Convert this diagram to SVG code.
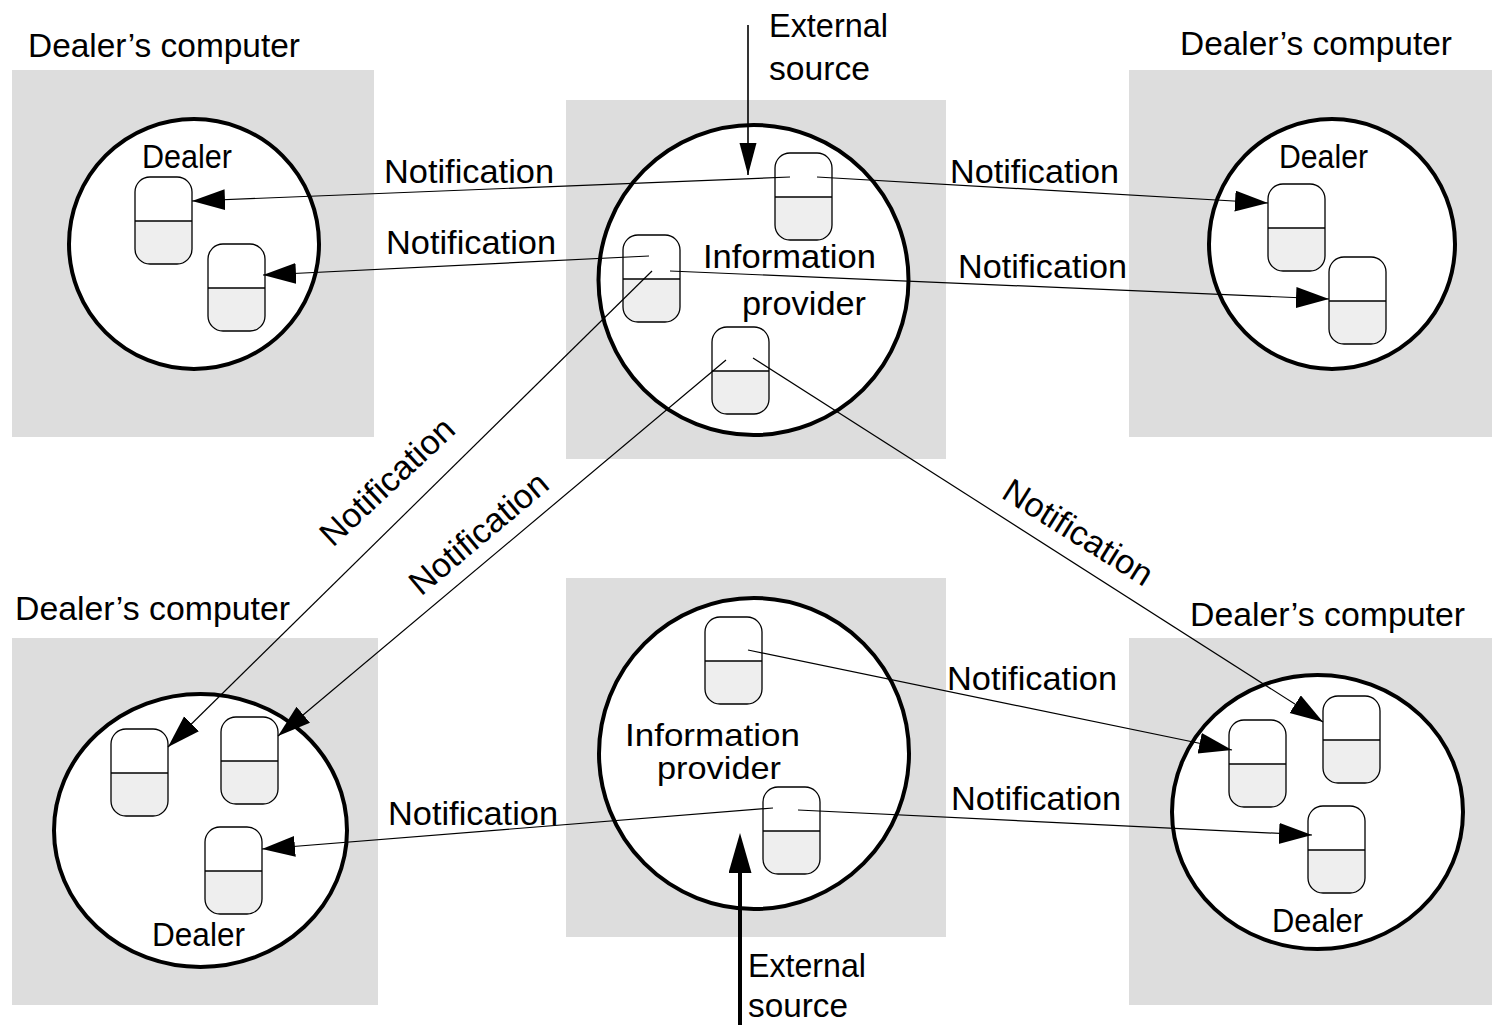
<svg xmlns="http://www.w3.org/2000/svg" xmlns:xlink="http://www.w3.org/1999/xlink" width="1492" height="1025" viewBox="0 0 1492 1025">
<style>
.bg{fill:#dddddd}
.proc{fill:#ffffff;stroke:#000;stroke-width:4}
.t{font-family:"Liberation Sans",Arial,sans-serif;font-size:34px;fill:#000}
.s{font-size:32px}
.c{fill:none;stroke:#000;stroke-width:1.2}
</style>
<defs>
<g id="obj">
<rect x="0" y="0" width="57" height="87" rx="15" ry="15" fill="#eeeeee"/>
<path d="M0,44 V15 A15,15 0 0 1 15,0 H42 A15,15 0 0 1 57,15 V44 Z" fill="#ffffff"/>
<rect x="0" y="0" width="57" height="87" rx="15" ry="15" fill="none" stroke="#000" stroke-width="1.3"/>
<line x1="0" y1="44" x2="57" y2="44" stroke="#000" stroke-width="1.3"/>
</g>
<marker id="ah" markerUnits="userSpaceOnUse" markerWidth="34" markerHeight="22" viewBox="0 0 34 22" refX="33" refY="10.5" orient="auto"><path d="M0,0 L33,10.5 L0,21 Z" fill="#000"/></marker>
<marker id="ahs" markerUnits="userSpaceOnUse" markerWidth="33" markerHeight="18" viewBox="0 0 33 18" refX="32" refY="8.5" orient="auto"><path d="M0,0 L32,8.5 L0,17 Z" fill="#000"/></marker>
<marker id="ahb" markerUnits="userSpaceOnUse" markerWidth="41" markerHeight="24" viewBox="0 0 41 24" refX="28" refY="11.5" orient="auto"><path d="M0,0 L40,11.5 L0,23 Z" fill="#000"/></marker>
</defs>

<g id="node-top-left">
<rect class="bg" x="12" y="70" width="362" height="367"/>
<ellipse class="proc" cx="194" cy="244" rx="125" ry="125"/>
<text class="t" x="28" y="57" textLength="272" lengthAdjust="spacingAndGlyphs">Dealer’s computer</text>
<text class="t" x="142" y="168" textLength="90" lengthAdjust="spacingAndGlyphs">Dealer</text>
<use xlink:href="#obj" x="135" y="177"/>
<use xlink:href="#obj" x="208" y="244"/>
</g>

<g id="node-top-center">
<rect class="bg" x="566" y="100" width="380" height="359"/>
<ellipse class="proc" cx="753.5" cy="280" rx="155" ry="155"/>
<text class="t" x="703" y="268" textLength="173" lengthAdjust="spacingAndGlyphs">Information</text>
<text class="t" x="742" y="315" textLength="124" lengthAdjust="spacingAndGlyphs">provider</text>
<use xlink:href="#obj" x="775" y="153"/>
<use xlink:href="#obj" x="623" y="235"/>
<use xlink:href="#obj" x="712" y="327"/>
</g>

<g id="node-top-right">
<rect class="bg" x="1129" y="70" width="363" height="367"/>
<ellipse class="proc" cx="1332" cy="244" rx="123" ry="125"/>
<text class="t" x="1180" y="55" textLength="272" lengthAdjust="spacingAndGlyphs">Dealer’s computer</text>
<text class="t" x="1279" y="168" textLength="89" lengthAdjust="spacingAndGlyphs">Dealer</text>
<use xlink:href="#obj" x="1268" y="184"/>
<use xlink:href="#obj" x="1329" y="257"/>
</g>

<g id="node-bottom-left">
<rect class="bg" x="12" y="638" width="366" height="367"/>
<ellipse class="proc" cx="200.5" cy="830.5" rx="146.5" ry="136.5"/>
<text class="t" x="15" y="620" textLength="275" lengthAdjust="spacingAndGlyphs">Dealer’s computer</text>
<text class="t" x="152" y="946" textLength="93" lengthAdjust="spacingAndGlyphs">Dealer</text>
<use xlink:href="#obj" x="111" y="729"/>
<use xlink:href="#obj" x="221" y="717"/>
<use xlink:href="#obj" x="205" y="827"/>
</g>

<g id="node-bottom-center">
<rect class="bg" x="566" y="578" width="380" height="359"/>
<ellipse class="proc" cx="754" cy="753.5" rx="155" ry="155.5"/>
<text class="t s" x="625" y="746" textLength="175" lengthAdjust="spacingAndGlyphs">Information</text>
<text class="t s" x="657" y="779" textLength="124" lengthAdjust="spacingAndGlyphs">provider</text>
<use xlink:href="#obj" x="705" y="617"/>
<use xlink:href="#obj" x="763" y="787"/>
</g>

<g id="node-bottom-right">
<rect class="bg" x="1129" y="638" width="363" height="367"/>
<ellipse class="proc" cx="1317.5" cy="812" rx="145.5" ry="137"/>
<text class="t" x="1190" y="626" textLength="275" lengthAdjust="spacingAndGlyphs">Dealer’s computer</text>
<text class="t" x="1272" y="932" textLength="91" lengthAdjust="spacingAndGlyphs">Dealer</text>
<use xlink:href="#obj" x="1229" y="720"/>
<use xlink:href="#obj" x="1323" y="696"/>
<use xlink:href="#obj" x="1308" y="806"/>
</g>

<g id="connectors">
<line class="c" x1="790" y1="177" x2="192" y2="201" marker-end="url(#ah)"/>
<line class="c" x1="649" y1="256" x2="263" y2="275" marker-end="url(#ah)"/>
<line class="c" x1="817" y1="177" x2="1268" y2="203" marker-end="url(#ah)"/>
<line class="c" x1="670" y1="271" x2="1329" y2="299" marker-end="url(#ah)"/>
<line class="c" x1="652" y1="271" x2="168" y2="747" marker-end="url(#ah)"/>
<line class="c" x1="726" y1="360" x2="278" y2="736" marker-end="url(#ah)"/>
<line class="c" x1="753" y1="358" x2="1323" y2="722" marker-end="url(#ah)"/>
<line class="c" x1="748" y1="650" x2="1232" y2="750" marker-end="url(#ah)"/>
<line class="c" x1="798" y1="810" x2="1312" y2="835" marker-end="url(#ah)"/>
<line class="c" x1="773" y1="808" x2="262" y2="849" marker-end="url(#ah)"/>
<line x1="748" y1="25" x2="748" y2="175" stroke="#000" stroke-width="1.6" marker-end="url(#ahs)"/>
<line x1="740" y1="1025" x2="740" y2="845" stroke="#000" stroke-width="4" marker-end="url(#ahb)"/>
</g>

<g id="labels">
<text class="t" x="384" y="183" textLength="170" lengthAdjust="spacingAndGlyphs">Notification</text>
<text class="t" x="386" y="254" textLength="170" lengthAdjust="spacingAndGlyphs">Notification</text>
<text class="t" x="950" y="183" textLength="169" lengthAdjust="spacingAndGlyphs">Notification</text>
<text class="t" x="958" y="278" textLength="169" lengthAdjust="spacingAndGlyphs">Notification</text>
<text class="t" x="947" y="690" textLength="170" lengthAdjust="spacingAndGlyphs">Notification</text>
<text class="t" x="951" y="810" textLength="170" lengthAdjust="spacingAndGlyphs">Notification</text>
<text class="t" x="388" y="825" textLength="170" lengthAdjust="spacingAndGlyphs">Notification</text>
<text class="t" transform="translate(395,490) rotate(-43)" x="0" y="0" text-anchor="middle" textLength="170" lengthAdjust="spacingAndGlyphs">Notification</text>
<text class="t" transform="translate(486,542) rotate(-40)" x="0" y="0" text-anchor="middle" textLength="170" lengthAdjust="spacingAndGlyphs">Notification</text>
<text class="t" transform="translate(1072,542) rotate(32)" x="0" y="0" text-anchor="middle" textLength="170" lengthAdjust="spacingAndGlyphs">Notification</text>
<text class="t" x="769" y="37" textLength="119" lengthAdjust="spacingAndGlyphs">External</text>
<text class="t" x="769" y="80" textLength="101" lengthAdjust="spacingAndGlyphs">source</text>
<text class="t" x="748" y="977" textLength="118" lengthAdjust="spacingAndGlyphs">External</text>
<text class="t" x="748" y="1017" textLength="100" lengthAdjust="spacingAndGlyphs">source</text>
</g>
</svg>
